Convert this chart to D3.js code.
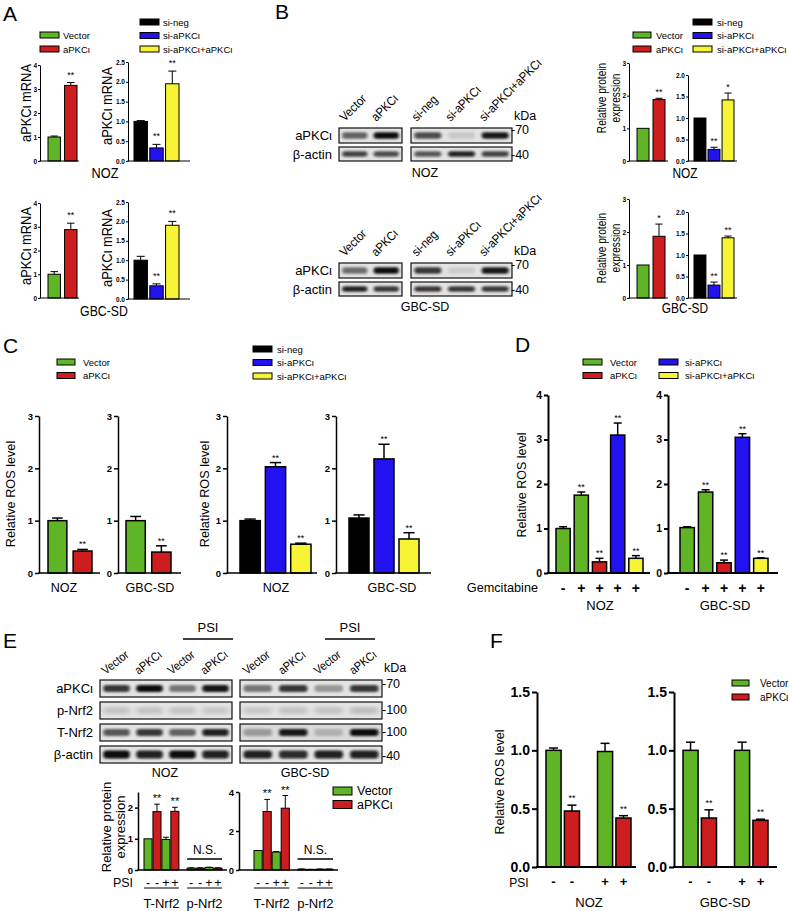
<!DOCTYPE html>
<html><head><meta charset="utf-8">
<script src="https://cdn.jsdelivr.net/npm/d3@7"></script>
<style>body{margin:0;background:#fff}svg{display:block;font-family:"Liberation Sans",Arial,sans-serif}</style>
</head><body><svg id="fig" width="789" height="911"></svg>
<script>
const GREEN="#5fb526", RED="#cd1d1f", BLUE="#2212f0", YELLOW="#f7f436", BLACK="#000000";
const FONT='"Liberation Sans",Arial,sans-serif';

// ---------- categories ----------
const oeLabels=["Vector","aPKCι"];
const kdLabels=["si-neg","si-aPKCι","si-aPKCι+aPKCι"];
const dLegend1=["Vector","aPKCι"], dLegend2=["si-aPKCι","si-aPKCι+aPKCι"];
const oeColors=[GREEN,RED], kdColors=[BLACK,BLUE,YELLOW];
const dColors=[GREEN,GREEN,RED,BLUE,YELLOW];
const pairColors=[GREEN,RED,GREEN,RED,GREEN,RED,GREEN,RED];
const gemSigns=["-","+","+","+","+"];
const psiSigns=["-","-","+","+"];
const eGroupLabels=["T-Nrf2","p-Nrf2"];
const cellLines=["NOZ","GBC-SD"];

// ---------- A: aPKCι mRNA ----------
const aNozOE=[1.00,3.15], aNozOEErr=[0.04,0.12];
const aNozKD=[1.00,0.33,1.95], aNozKDErr=[0.02,0.09,0.32];
const aGbcOE=[1.00,2.88], aGbcOEErr=[0.11,0.27];
const aGbcKD=[1.00,0.34,1.90], aGbcKDErr=[0.10,0.05,0.10];
const aStarsOE=["","**"], aStarsKD=["","**","**"];
// ---------- B: relative protein expression ----------
const bNozOE=[1.00,1.88], bNozOEErr=[0,0.04];
const bNozKD=[1.00,0.27,1.42], bNozKDErr=[0,0.05,0.16];
const bGbcOE=[1.00,1.87], bGbcOEErr=[0,0.37];
const bGbcKD=[1.00,0.30,1.40], bGbcKDErr=[0,0.07,0.04];
const bStarsNozOE=["","**"], bStarsNozKD=["","**","*"], bStarsGbcOE=["","*"], bStarsGbcKD=["","**","**"];
// ---------- C: relative ROS ----------
const cNozOE=[1.00,0.42], cNozOEErr=[0.05,0.03];
const cGbcOE=[1.00,0.40], cGbcOEErr=[0.08,0.12];
const cNozKD=[1.00,2.03,0.55], cNozKDErr=[0.03,0.08,0.02];
const cGbcKD=[1.05,2.18,0.65], cGbcKDErr=[0.06,0.28,0.12];
// ---------- D: ROS with gemcitabine ----------
const dNoz=[1.00,1.75,0.25,3.10,0.33], dNozErr=[0.04,0.07,0.08,0.27,0.06];
const dGbc=[1.02,1.82,0.23,3.05,0.33], dGbcErr=[0.02,0.05,0.06,0.08,0.01];
const dStars=["","**","**","**","**"];
// ---------- E: Nrf2 quantification ----------
const eNoz=[1.00,1.87,0.98,1.88,0.06,0.06,0.08,0.06];
const eNozErr=[0,0.24,0.07,0.13,0.01,0.01,0.01,0.01];
const eGbc=[1.00,3.00,0.92,3.17,0.04,0.03,0.04,0.04];
const eGbcErr=[0,0.62,0.03,0.65,0.01,0.005,0.01,0.01];
const eStars=["","**","","**","","","",""];
// ---------- F: ROS with PSI ----------
const fNoz=[1.00,0.48,0.99,0.42], fNozErr=[0.02,0.05,0.07,0.02];
const fGbc=[1.00,0.42,1.00,0.40], fGbcErr=[0.07,0.07,0.07,0.01];
const fStars=["","**","","**"];
// ---------- blot band intensities ----------
const bNozApkc=[0.6,1.0,0.7,0.12,0.95], bNozActin=[0.75,0.7,0.65,0.9,0.75];
const bGbcApkc=[0.55,1.0,0.8,0.1,0.95], bGbcActin=[0.9,0.8,0.8,0.8,0.8];
const eNozApkc=[0.8,1.0,0.5,0.95], eNozP=[0.14,0.14,0.14,0.12], eNozT=[0.65,0.8,0.6,0.9], eNozActin=[1.0,0.9,1.0,0.9];
const eGbcApkc=[0.5,0.8,0.35,0.8], eGbcP=[0.12,0.14,0.14,0.17], eGbcT=[0.3,0.95,0.2,1.0], eGbcActin=[0.9,0.85,0.9,0.9];
const bRowLabels=["aPKCι","β-actin"], eRowLabels=["aPKCι","p-Nrf2","T-Nrf2","β-actin"];
const eLanes=["Vector","aPKCι","Vector","aPKCι"];

// ================= drawing =================
const svg=d3.select("#fig");
svg.append("rect").attr("width",789).attr("height",911).attr("fill","#fff");
const defs=svg.append("defs");
defs.append("filter").attr("id","blur").attr("x","-50%").attr("y","-100%").attr("width","200%").attr("height","300%")
  .append("feGaussianBlur").attr("stdDeviation","1.5 0.9");
defs.append("filter").attr("id","blur2").attr("x","-50%").attr("y","-100%").attr("width","200%").attr("height","300%")
  .append("feGaussianBlur").attr("stdDeviation","2.5 1.6");

function T(x,y,s,o={}){
  let tr=`translate(${x},${y})`;
  if(o.rot) tr+=` rotate(${o.rot})`;
  if(o.sx) tr+=` scale(${o.sx},1)`;
  return svg.append("text").attr("transform",tr).attr("font-size",o.size||12)
    .attr("text-anchor",o.anchor||"middle").attr("dominant-baseline",o.base||"central")
    .attr("font-weight",o.bold?"bold":"normal").attr("fill","#000").text(s);
}
function L(x1,y1,x2,y2,w){svg.append("line").attr("x1",x1).attr("y1",y1).attr("x2",x2).attr("y2",y2).attr("stroke","#000").attr("stroke-width",w||1);}

function barChart(c){
  const g=svg.append("g");
  const y=d3.scaleLinear().domain([0,c.max]).range([c.y0,c.yTop]);
  const gs=c.groupSize||c.values.length;
  const nG=c.values.length/gs;
  const outer=d3.scaleBand().domain(d3.range(nG)).range([c.bandL,c.bandR]).paddingInner(c.gp||0);
  const inner=d3.scaleBand().domain(d3.range(gs)).range([0,outer.bandwidth()]).paddingInner(c.p);
  const bx=i=>outer(Math.floor(i/gs))+inner(i%gs);
  const bw=inner.bandwidth();
  g.selectAll("rect.bar").data(c.values).join("rect").attr("class","bar")
    .attr("x",(d,i)=>bx(i)).attr("y",d=>y(d)).attr("width",bw).attr("height",d=>c.y0-y(d))
    .attr("fill",(d,i)=>c.colors[i]).attr("stroke","#000").attr("stroke-width",c.barStroke||1);
  c.values.forEach((v,i)=>{
    const e=c.errors[i]; if(!e) return;
    const cx=bx(i)+bw/2, yt=y(v+e);
    g.append("line").attr("x1",cx).attr("x2",cx).attr("y1",y(v)).attr("y2",yt).attr("stroke","#000").attr("stroke-width",c.errW||1);
    g.append("line").attr("x1",cx-bw*(c.cap||0.3)).attr("x2",cx+bw*(c.cap||0.3)).attr("y1",yt).attr("y2",yt).attr("stroke","#000").attr("stroke-width",c.errW||1);
  });
  const ax=g.append("g").attr("transform",`translate(${c.axisX},0)`)
    .call(d3.axisLeft(y).tickValues(c.ticks).tickFormat(c.fmt).tickSize(c.tickLen).tickSizeOuter(0).tickPadding(c.tickPad||2));
  ax.attr("font-family",FONT).attr("font-size",c.tickFont).attr("font-weight","bold");
  ax.select(".domain").attr("stroke","#000").attr("stroke-width",c.axisW);
  ax.selectAll(".tick line").attr("stroke","#000").attr("stroke-width",c.axisW);
  ax.selectAll(".tick text").attr("fill","#000");
  g.append("line").attr("x1",c.axisX-c.axisW/2).attr("x2",c.xEnd).attr("y1",c.y0).attr("y2",c.y0)
    .attr("stroke","#000").attr("stroke-width",c.axisW);
  if(c.stars) c.stars.forEach((s,i)=>{ if(!s) return;
    const top=y(c.values[i]+(c.errors[i]||0));
    T(bx(i)+bw/2, top-c.starGap, s, {size:c.starSize, base:"auto"});
  });
  if(c.signs) c.values.forEach((v,i)=>T(bx(i)+bw/2, c.signY, c.signs[i%c.signs.length], {size:c.signSize, bold:c.signBold}));
  return {bx,bw,outer,inner,y};
}

function legend(x,yc,labels,colors,o){
  labels.forEach((t,i)=>{
    svg.append("rect").attr("x",x).attr("y",yc+i*o.dy-o.h/2).attr("width",o.w).attr("height",o.h)
      .attr("fill",colors[i]).attr("stroke","#000").attr("stroke-width",1);
    T(x+o.w+o.gap, yc+i*o.dy, t, {size:o.size, anchor:"start"});
  });
}

let clipN=0;
function blotRow(x0,x1,y0,y1,vals,o={}){
  const lane=d3.scaleBand().domain(d3.range(vals.length)).range([x0,x1]);
  const id="clip"+(clipN++);
  defs.append("clipPath").attr("id",id).append("rect").attr("x",x0).attr("y",y0).attr("width",x1-x0).attr("height",y1-y0);
  svg.append("rect").attr("x",x0).attr("y",y0).attr("width",x1-x0).attr("height",y1-y0).attr("fill",o.bg||"#e3e3e3");
  const h=y1-y0;
  const g=svg.append("g").attr("clip-path",`url(#${id})`);
  g.selectAll("rect").data(vals).join("rect")
    .attr("x",(d,i)=>lane(i)+lane.bandwidth()*0.1).attr("width",lane.bandwidth()*0.8)
    .attr("y",(y0+y1)/2-h*(o.bh||0.2)).attr("height",h*(o.bh||0.2)*2).attr("rx",3)
    .attr("fill","#0a0a0a").attr("opacity",d=>d).attr("filter",o.faint?"url(#blur2)":"url(#blur)");
  svg.append("rect").attr("x",x0).attr("y",y0).attr("width",x1-x0).attr("height",y1-y0)
    .attr("fill","none").attr("stroke","#111").attr("stroke-width",1.2);
}

// ---------- panel letters ----------
[["A",3,21],["B",275,19],["C",3,353],["D",515,352],["E",3,648],["F",490,648]].forEach(d=>T(d[1],d[2],d[0],{size:21,anchor:"start",base:"auto"}));

// ================= Panel A =================
legend(40,35,oeLabels,oeColors,{dy:14,w:19,h:6,gap:4,size:9.5});
legend(140,22,kdLabels,kdColors,{dy:13.5,w:19,h:6,gap:4,size:9.5});
const aOE={axisW:1,tickLen:2,tickPad:1,tickFont:6.5,barStroke:1,errW:1,cap:0.3,starSize:9,starGap:5,p:0.25,fmt:d3.format("d"),ticks:[0,1,2,3,4],max:4,axisX:40,xEnd:79,bandL:48,bandR:77,colors:oeColors,stars:aStarsOE};
const aKD={axisW:1,tickLen:2,tickPad:1,tickFont:6.5,barStroke:1,errW:1,cap:0.3,starSize:9,starGap:5,p:0.15,fmt:d3.format(".1f"),ticks:[0,0.5,1,1.5,2,2.5],max:2.5,axisX:128,xEnd:190,bandL:134,bandR:179,colors:kdColors,stars:aStarsKD};
barChart({...aOE,values:aNozOE,errors:aNozOEErr,y0:161,yTop:65});
barChart({...aKD,values:aNozKD,errors:aNozKDErr,y0:161,yTop:62});
barChart({...aOE,values:aGbcOE,errors:aGbcOEErr,y0:298,yTop:203});
barChart({...aKD,values:aGbcKD,errors:aGbcKDErr,y0:299,yTop:202});
[[26,103],[107,106],[26,246],[107,248]].forEach(p=>T(p[0],p[1],"aPKCι mRNA",{size:14,rot:-90,sx:0.92}));
T(105,173,cellLines[0],{size:15,sx:0.85});
T(104,311,cellLines[1],{size:14.5,sx:0.85});

// ================= Panel B blots =================
function bBlot(yA,yB,apkc,actin,label,labelY){
  const rows=[[yA,yA+15,apkc],[yB,yB+14,actin]];
  rows.forEach((r,ri)=>{
    blotRow(339,402,r[0],r[1],r[2].slice(0,2),{bh:ri?0.2:0.22});
    blotRow(411,512,r[0],r[1],r[2].slice(2),{bh:ri?0.2:0.22});
    T(332,(r[0]+r[1])/2,bRowLabels[ri],{size:13,anchor:"end"});
  });
  const laneL=d3.scaleBand().domain(oeLabels).range([339,402]);
  const laneR=d3.scaleBand().domain(kdLabels).range([411,512]);
  oeLabels.forEach(t=>T(laneL(t)+laneL.bandwidth()/2-10,yA-6,t,{size:12.5,anchor:"start",base:"auto",rot:-45,sx:0.9}));
  kdLabels.forEach(t=>T(laneR(t)+laneR.bandwidth()/2-11,yA-6,t,{size:12.5,anchor:"start",base:"auto",rot:-45,sx:0.9}));
  T(514,yA-12,"kDa",{size:12.5,anchor:"start"});
  T(511,yA+2,"-70",{size:12.5,anchor:"start"});
  T(511,yB+8,"-40",{size:12.5,anchor:"start"});
  T(425,labelY,label,{size:12.5});
}
bBlot(128,147,bNozApkc,bNozActin,cellLines[0],173);
bBlot(263,282,bGbcApkc,bGbcActin,cellLines[1],307);

// ================= Panel B charts =================
legend(633,35,oeLabels,oeColors,{dy:14,w:18,h:6,gap:5,size:9.5});
legend(693,22,kdLabels,kdColors,{dy:13.5,w:19,h:6,gap:5,size:9.5});
const bOE={axisW:1,tickLen:2,tickPad:1,tickFont:6.5,barStroke:1,errW:1,cap:0.3,starSize:9,starGap:3,p:0.25,fmt:d3.format("d"),ticks:[0,1,2,3],max:3,axisX:629,xEnd:668,bandL:637,bandR:665,colors:oeColors};
const bKD={axisW:1,tickLen:2,tickPad:1,tickFont:6.5,barStroke:1,errW:1,cap:0.3,starSize:9,starGap:3,p:0.15,fmt:d3.format(".1f"),ticks:[0,0.5,1,1.5,2],max:2,axisX:688,xEnd:737,bandL:694,bandR:734,colors:kdColors};
barChart({...bOE,values:bNozOE,errors:bNozOEErr,stars:bStarsNozOE,y0:161,yTop:63});
barChart({...bKD,values:bNozKD,errors:bNozKDErr,stars:bStarsNozKD,y0:161,yTop:75});
barChart({...bOE,values:bGbcOE,errors:bGbcOEErr,stars:bStarsGbcOE,y0:298,yTop:199});
barChart({...bKD,values:bGbcKD,errors:bGbcKDErr,stars:bStarsGbcKD,y0:298,yTop:212});
[[98],[248]].forEach(p=>{T(601,p[0],"Relative protein",{size:13,rot:-90,sx:0.78});T(615,p[0],"expression",{size:13,rot:-90,sx:0.78});});
T(685,173,cellLines[0],{size:14,sx:0.85});
T(685,308,cellLines[1],{size:14,sx:0.85});

// ================= Panel C =================
legend(57,362,oeLabels,oeColors,{dy:13.5,w:18,h:6,gap:8,size:9.5});
legend(253,349,kdLabels,kdColors,{dy:13.5,w:19,h:6,gap:5,size:9.5});
const cBase={axisW:1.5,tickLen:4,tickPad:2,tickFont:9.5,barStroke:1.5,errW:1.5,cap:0.28,starSize:9,starGap:2,fmt:d3.format("d"),ticks:[0,1,2,3],max:3,y0:573,yTop:416};
barChart({...cBase,p:0.25,axisX:39,xEnd:100,bandL:48,bandR:92,colors:oeColors,values:cNozOE,errors:cNozOEErr,stars:aStarsOE});
barChart({...cBase,p:0.25,axisX:118,xEnd:181,bandL:126,bandR:171,colors:oeColors,values:cGbcOE,errors:cGbcOEErr,stars:aStarsOE});
barChart({...cBase,p:0.2,axisX:227,xEnd:317,bandL:240,bandR:311,colors:kdColors,values:cNozKD,errors:cNozKDErr,stars:aStarsKD});
barChart({...cBase,p:0.2,axisX:336,xEnd:431,bandL:349,bandR:419,colors:kdColors,values:cGbcKD,errors:cGbcKDErr,stars:aStarsKD});
T(11,494,"Relative ROS level",{size:12.7,rot:-90});
T(205,494,"Relative ROS level",{size:12.7,rot:-90});
T(64,587,cellLines[0],{size:13.5,sx:0.93});
T(150,587,cellLines[1],{size:13.5,sx:0.93});
T(276,587,cellLines[0],{size:13.5,sx:0.93});
T(392,587,cellLines[1],{size:13.5,sx:0.93});

// ================= Panel D =================
legend(583,362,dLegend1,[GREEN,RED],{dy:13.5,w:19,h:6,gap:8,size:9.5});
legend(659,362,dLegend2,[BLUE,YELLOW],{dy:13.5,w:19,h:6,gap:7,size:9.5});
const dBase={axisW:2,tickLen:4,tickPad:2,tickFont:10.5,barStroke:1.5,errW:1.5,cap:0.28,starSize:9,starGap:2,fmt:d3.format("d"),ticks:[0,1,2,3,4],max:4,y0:573,yTop:395,p:0.22,colors:dColors,stars:dStars,signs:gemSigns,signY:588,signSize:14,signBold:true};
barChart({...dBase,axisX:548,xEnd:650,bandL:556,bandR:643,values:dNoz,errors:dNozErr});
barChart({...dBase,axisX:668,xEnd:778,bandL:680,bandR:768,values:dGbc,errors:dGbcErr});
T(522,485,"Relative ROS level",{size:12.5,rot:-90});
T(538,588,"Gemcitabine",{size:12.7,anchor:"end"});
T(600,605,cellLines[0],{size:13});
T(725,605,cellLines[1],{size:13});

// ================= Panel E blots =================
const eRowsY=[[680,697],[702,719],[724,741],[746,763]];
const eNozRows=[eNozApkc,eNozP,eNozT,eNozActin], eGbcRows=[eGbcApkc,eGbcP,eGbcT,eGbcActin];
eRowsY.forEach((r,ri)=>{
  blotRow(100,232,r[0],r[1],eNozRows[ri],{faint:ri===1,bh:ri===3?0.24:0.2});
  blotRow(240,382,r[0],r[1],eGbcRows[ri],{faint:ri===1,bh:ri===3?0.24:0.2,bg:ri===2?"#d9d9d9":"#e3e3e3"});
  T(93,(r[0]+r[1])/2,eRowLabels[ri],{size:13,anchor:"end"});
});
[[100,232],[240,382]].forEach(b=>{
  const lane=d3.scaleBand().domain(d3.range(4)).range(b);
  eLanes.forEach((t,i)=>T(lane(i)+lane.bandwidth()/2-11,675,t,{size:12,anchor:"start",base:"auto",rot:-38,sx:0.9}));
});
T(208,627,"PSI",{size:13}); L(183,639,233,639,1.5);
T(350,627,"PSI",{size:13}); L(325,639,375,639,1.5);
T(384,668,"kDa",{size:12.5,anchor:"start"});
T(382,684,"-70",{size:12.5,anchor:"start"});
T(382,710,"-100",{size:12.5,anchor:"start"});
T(382,732,"-100",{size:12.5,anchor:"start"});
T(382,756,"-40",{size:12.5,anchor:"start"});
T(165,773,cellLines[0],{size:12.5});
T(305,773,cellLines[1],{size:12.5});

// ================= Panel E charts =================
const eBase={axisW:1.5,tickLen:3,tickPad:2,tickFont:9.5,barStroke:1,errW:1,cap:0.35,starSize:11,starGap:2,fmt:d3.format("d"),groupSize:4,gp:0.19,p:0.1,y0:870,yTop:792,colors:pairColors,stars:eStars,signs:psiSigns,signY:883,signSize:12.5};
const e1=barChart({...eBase,axisX:138,xEnd:227,bandL:144,bandR:222,max:2.5,ticks:[0,1,2],values:eNoz,errors:eNozErr});
const e2=barChart({...eBase,axisX:239,xEnd:338,bandL:254,bandR:333,max:4,ticks:[0,2,4],values:eGbc,errors:eGbcErr});
[e1,e2].forEach(e=>{
  eGroupLabels.forEach((lab,gi)=>{
    const x0=e.outer(gi), x1=x0+e.outer.bandwidth();
    L(x0,888,x1,888,1.2);
    T((x0+x1)/2,903,lab,{size:13});
  });
  const x0=e.outer(1), x1=x0+e.outer.bandwidth();
  L(x0,859,x1,859,1.5);
  T((x0+x1)/2,850,"N.S.",{size:12});
});
T(106,827,"Relative protein",{size:13,rot:-90});
T(120,827,"expression",{size:13,rot:-90});
T(123,883,"PSI",{size:12.5});
legend(333,791,oeLabels,oeColors,{dy:13.5,w:19,h:8,gap:5,size:12.5});

// ================= Panel F =================
legend(732,683,oeLabels,oeColors,{dy:14,w:17,h:6,gap:11,size:10});
const fBase={axisW:2,tickLen:5,tickPad:2,tickFont:14,barStroke:1.5,errW:1.5,cap:0.3,starSize:9,starGap:4,fmt:d3.format(".1f"),ticks:[0,0.5,1,1.5],max:1.5,y0:867,yTop:692,groupSize:2,gp:0.35,p:0.18,colors:pairColors,stars:fStars,signs:psiSigns,signY:881,signSize:13,signBold:true};
barChart({...fBase,axisX:537,xEnd:636,bandL:546,bandR:631,values:fNoz,errors:fNozErr});
barChart({...fBase,axisX:674,xEnd:777,bandL:683,bandR:768,values:fGbc,errors:fGbcErr});
T(500,782,"Relative ROS level",{size:12.5,rot:-90});
T(519,883,"PSI",{size:12});
T(589,902,cellLines[0],{size:13});
T(725,902,cellLines[1],{size:13});
</script></body></html>
